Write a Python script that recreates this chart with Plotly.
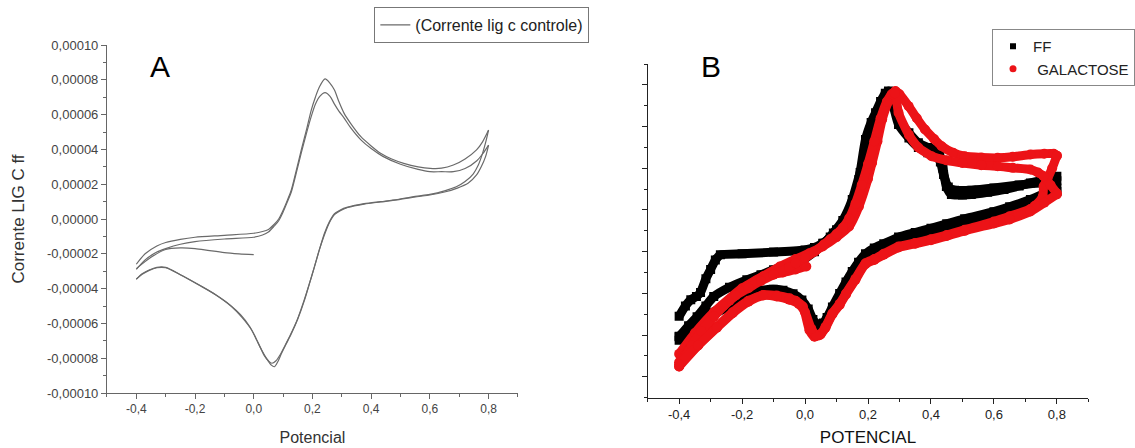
import plotly.graph_objects as go

# ---------------- Panel A : cyclic voltammogram (values in 1e-5 A) ----------------
a_start_x = [0.0, -0.05, -0.1, -0.15, -0.2, -0.25, -0.3, -0.35, -0.4]
a_start_y = [-2.05, -2.0, -1.93, -1.82, -1.7, -1.66, -1.75, -2.2, -2.85]

a_an1_x = [-0.4, -0.37, -0.33, -0.3, -0.25, -0.2, -0.1, 0.0, 0.03, 0.05, 0.07, 0.085, 0.1, 0.115,
           0.128, 0.145, 0.162, 0.18, 0.196, 0.21, 0.224, 0.243, 0.26, 0.275, 0.29, 0.308, 0.33,
           0.365, 0.4, 0.432, 0.47, 0.511, 0.56, 0.601, 0.64, 0.68, 0.72, 0.759, 0.78, 0.8]
a_an1_y = [-2.6, -2.0, -1.55, -1.35, -1.17, -1.05, -0.94, -0.82, -0.72, -0.6, -0.3, 0.0, 0.5, 1.1,
           1.67, 2.8, 3.97, 5.15, 6.26, 7.0, 7.6, 8.05, 7.8, 7.41, 6.75, 6.07, 5.5,
           4.73, 4.2, 3.78, 3.45, 3.2, 3.0, 2.91, 2.92, 3.1, 3.45, 3.97, 4.45, 5.11]

a_cat1_x = [0.8, 0.79, 0.78, 0.765, 0.748, 0.72, 0.69, 0.65, 0.6, 0.55, 0.489, 0.432, 0.376, 0.32,
            0.295, 0.275, 0.258, 0.241, 0.224, 0.207, 0.19, 0.173, 0.15, 0.128, 0.11, 0.094, 0.082,
            0.07, 0.06, 0.045, 0.027, 0.01, -0.007, -0.04, -0.075, -0.13, -0.187, -0.25, -0.3,
            -0.33, -0.356, -0.38, -0.4]
a_cat1_y = [5.11, 4.4, 3.8, 3.1, 2.6, 2.15, 1.85, 1.62, 1.42, 1.3, 1.12, 1.0, 0.88, 0.68,
            0.52, 0.3, -0.15, -0.82, -1.75, -2.74, -3.7, -4.66, -5.75, -6.6, -7.2, -7.75, -8.2,
            -8.49, -8.4, -8.05, -7.53, -6.95, -6.38, -5.65, -5.04, -4.35, -3.79, -3.2, -2.78,
            -2.78, -2.93, -3.15, -3.47]

a_an2_x = [-0.4, -0.37, -0.33, -0.3, -0.25, -0.2, -0.1, 0.0, 0.03, 0.05, 0.07, 0.085, 0.1, 0.115,
           0.128, 0.145, 0.162, 0.18, 0.196, 0.21, 0.225, 0.243, 0.26, 0.275, 0.29, 0.308, 0.33,
           0.365, 0.4, 0.44, 0.5, 0.56, 0.6, 0.64, 0.68, 0.72, 0.76, 0.78, 0.8]
a_an2_y = [-2.9, -2.35, -1.9, -1.7, -1.45, -1.3, -1.15, -1.05, -0.92, -0.75, -0.4, -0.1, 0.4, 1.0,
           1.55, 2.65, 3.8, 4.95, 5.9, 6.6, 7.05, 7.26, 7.05, 6.6, 6.2, 5.8, 5.25,
           4.55, 4.05, 3.6, 3.15, 2.85, 2.72, 2.72, 2.72, 2.9, 3.35, 3.75, 4.25]

a_cat2_x = [0.8, 0.79, 0.775, 0.759, 0.73, 0.691, 0.65, 0.6, 0.556, 0.489, 0.432, 0.376, 0.32,
            0.295, 0.275, 0.258, 0.24, 0.222, 0.205, 0.188, 0.17, 0.148, 0.125, 0.107, 0.09,
            0.076, 0.062, 0.05, 0.036, 0.02, 0.003, -0.015, -0.045, -0.08, -0.135, -0.19, -0.25,
            -0.3, -0.33, -0.356, -0.38, -0.4]
a_cat2_y = [4.25, 3.6, 3.0, 2.53, 2.05, 1.76, 1.55, 1.38, 1.28, 1.1, 0.98, 0.86, 0.66,
            0.48, 0.25, -0.2, -0.95, -1.85, -2.85, -3.8, -4.75, -5.8, -6.65, -7.25, -7.8,
            -8.15, -8.29, -8.15, -7.85, -7.3, -6.7, -6.15, -5.5, -4.95, -4.3, -3.75, -3.2,
            -2.8, -2.8, -2.95, -3.18, -3.45]

# ---------------- Panel B : FF (black) and GALACTOSE (red), same units ----------------
ff_an1_x = [-0.4, -0.38, -0.363, -0.345, -0.332, -0.315, -0.3, -0.285, -0.269, -0.2, -0.1, 0.0,
            0.03, 0.056, 0.08, 0.1, 0.129, 0.15, 0.171, 0.192, 0.21, 0.224, 0.24, 0.255, 0.265,
            0.28, 0.297, 0.33, 0.36, 0.39, 0.412, 0.428, 0.438, 0.449, 0.465, 0.5, 0.528, 0.58,
            0.632, 0.68, 0.716, 0.76, 0.8]
ff_an1_y = [-5.1, -4.6, -4.3, -4.15, -3.95, -3.3, -2.85, -2.4, -2.15, -2.1, -2.02, -1.92,
            -1.8, -1.6, -1.3, -0.95, -0.62, 0.3, 1.46, 3.38, 4.2, 4.66, 5.2, 5.6, 5.7,
            5.1, 4.34, 3.7, 3.22, 3.0, 2.9, 2.6, 2.0, 1.13, 0.74, 0.72, 0.74, 0.85,
            0.98, 1.15, 1.3, 1.45, 1.62]

ff_cat1_x = [0.8, 0.76, 0.716, 0.65, 0.6, 0.507, 0.45, 0.4, 0.35, 0.297, 0.25, 0.22, 0.192,
             0.17, 0.15, 0.13, 0.11, 0.087, 0.07, 0.058, 0.046, 0.035, 0.025, 0.01, -0.01,
             -0.038, -0.07, -0.101, -0.14, -0.175, -0.21, -0.26, -0.31, -0.36, -0.4]
ff_cat1_y = [0.89, 0.62, 0.34, 0.0, -0.22, -0.55, -0.8, -1.02, -1.22, -1.43, -1.75, -1.95, -2.23,
             -2.65, -3.1, -3.6, -4.15, -4.8, -5.3, -5.55, -5.67, -5.6, -5.4, -4.9, -4.45,
             -4.15, -3.98, -3.91, -3.98, -4.15, -4.35, -4.75, -5.2, -5.7, -6.24]

ff_an2_x = [-0.4, -0.37, -0.343, -0.315, -0.29, -0.24, -0.185, -0.14, -0.1, -0.05, -0.007, 0.03,
            0.06, 0.09, 0.12, 0.15, 0.175, 0.2, 0.22, 0.24, 0.255, 0.265, 0.28, 0.297, 0.33,
            0.36, 0.39, 0.415, 0.43, 0.44, 0.455, 0.475, 0.53, 0.6, 0.68, 0.74, 0.8]
ff_an2_y = [-6.08, -5.55, -5.12, -4.6, -4.15, -3.7, -3.35, -3.1, -2.87, -2.62, -2.39, -2.0,
            -1.6, -1.1, -0.5, 0.5, 1.8, 3.2, 4.2, 5.0, 5.5, 5.6, 5.0, 4.1, 3.45,
            3.0, 2.75, 2.65, 2.3, 1.7, 1.1, 0.95, 0.95, 1.05, 1.2, 1.3, 1.4]

ff_cat2_x = [0.8, 0.76, 0.716, 0.65, 0.6, 0.507, 0.45, 0.4, 0.35, 0.297, 0.25, 0.22, 0.192,
             0.17, 0.15, 0.13, 0.11, 0.087, 0.07, 0.058, 0.046, 0.035, 0.025, 0.01, -0.01,
             -0.038, -0.07, -0.101, -0.14, -0.175, -0.21, -0.26, -0.31, -0.36, -0.4]
ff_cat2_y = [1.05, 0.78, 0.5, 0.15, -0.08, -0.42, -0.66, -0.88, -1.08, -1.3, -1.62, -1.82, -2.1,
             -2.5, -2.95, -3.45, -4.0, -4.65, -5.15, -5.42, -5.52, -5.45, -5.25, -4.75, -4.32,
             -4.02, -3.85, -3.8, -3.86, -4.02, -4.22, -4.62, -5.05, -5.55, -6.05]

gal_start_x = [0.004, -0.03, -0.07, -0.133, -0.2, -0.29, -0.35, -0.4]
gal_start_y = [-2.71, -2.85, -3.0, -3.19, -3.75, -4.9, -5.9, -6.9]

gal_an1_x = [-0.4, -0.37, -0.33, -0.29, -0.24, -0.185, -0.13, -0.08, -0.03, 0.014, 0.056, 0.1,
             0.14, 0.171, 0.2, 0.213, 0.23, 0.245, 0.265, 0.28, 0.287, 0.3, 0.329, 0.355, 0.381,
             0.41, 0.434, 0.47, 0.507, 0.56, 0.612, 0.66, 0.716, 0.76, 0.79, 0.8]
gal_an1_y = [-7.3, -6.7, -5.9, -5.12, -4.35, -3.67, -3.15, -2.71, -2.35, -2.07, -1.75, -1.3,
             -0.79, 0.17, 1.5, 2.26, 3.3, 4.34, 5.2, 5.6, 5.7, 5.55, 4.98, 4.4, 3.86,
             3.4, 3.06, 2.75, 2.58, 2.52, 2.5, 2.55, 2.66, 2.7, 2.7, 2.6]

gal_cat1_x = [0.8, 0.785, 0.77, 0.758, 0.755, 0.73, 0.716, 0.65, 0.6, 0.507, 0.45, 0.4, 0.35,
              0.297, 0.25, 0.22, 0.192, 0.16, 0.13, 0.11, 0.087, 0.065, 0.046, 0.03, 0.014,
              -0.007, -0.03, -0.049, -0.09, -0.133, -0.18, -0.23, -0.28, -0.34, -0.4]
gal_cat1_y = [2.6, 2.0, 1.5, 1.14, 0.65, 0.2, 0.05, -0.3, -0.55, -0.95, -1.2, -1.4, -1.58,
              -1.75, -2.1, -2.35, -2.55, -3.3, -4.0, -4.5, -4.95, -5.6, -6.0, -6.08, -5.76,
              -4.63, -4.35, -4.23, -4.1, -4.07, -4.35, -4.9, -5.6, -6.5, -7.5]

gal_an2_x = [-0.4, -0.36, -0.33, -0.29, -0.26, -0.22, -0.18, -0.14, -0.1, -0.05, -0.03, 0.0,
             0.03, 0.06, 0.08, 0.1, 0.12, 0.14, 0.16, 0.18, 0.2, 0.22, 0.24, 0.26, 0.275,
             0.285, 0.297, 0.33, 0.36, 0.402, 0.45, 0.5, 0.56, 0.612, 0.66, 0.716, 0.74,
             0.758, 0.78, 0.8]
gal_an2_y = [-7.5, -6.5, -5.8, -5.1, -4.6, -4.1, -3.75, -3.4, -3.1, -2.75, -2.55, -2.3,
             -2.0, -1.65, -1.4, -1.15, -0.85, -0.4, 0.3, 1.2, 2.2, 3.3, 4.4, 5.2, 5.55,
             5.6, 4.66, 3.6, 3.0, 2.58, 2.38, 2.25, 2.15, 2.1, 2.02, 1.94, 1.8,
             1.62, 1.2, 0.8]

gal_cat2_x = [0.8, 0.76, 0.716, 0.65, 0.6, 0.507, 0.45, 0.4, 0.35, 0.297, 0.25, 0.22, 0.192,
              0.16, 0.13, 0.11, 0.087, 0.065, 0.05, 0.035, 0.02, 0.0, -0.02, -0.05, -0.09,
              -0.133, -0.18, -0.23, -0.28, -0.34, -0.4]
gal_cat2_y = [0.75, 0.35, -0.07, -0.45, -0.65, -1.0, -1.25, -1.45, -1.62, -1.8, -2.15, -2.4,
              -2.6, -3.35, -4.05, -4.55, -5.0, -5.65, -5.95, -6.0, -5.7, -4.9, -4.5, -4.3,
              -4.15, -4.1, -4.4, -4.95, -5.65, -6.5, -7.4]

SCALE = 1e-5

# tick labels
a_ytick_vals = [-0.0001, -0.00008, -0.00006, -0.00004, -0.00002, 0.0, 0.00002, 0.00004,
                0.00006, 0.00008, 0.0001]
a_ytick_text = ["-0,00010", "-0,00008", "-0,00006", "-0,00004", "-0,00002", "0,00000",
                "0,00002", "0,00004", "0,00006", "0,00008", "0,00010"]
x_tick_vals = [-0.4, -0.2, 0.0, 0.2, 0.4, 0.6, 0.8]
x_tick_text = ["-0,4", "-0,2", "0,0", "0,2", "0,4", "0,6", "0,8"]

FONT = "Liberation Sans, Arial, sans-serif"

fig = go.Figure()

# Panel A traces
a_segments = [(a_start_x, a_start_y), (a_an1_x, a_an1_y), (a_cat1_x, a_cat1_y),
              (a_an2_x, a_an2_y), (a_cat2_x, a_cat2_y)]
for i, (sx, sy) in enumerate(a_segments):
    fig.add_trace(go.Scatter(
        x=sx, y=[v * SCALE for v in sy], mode="lines",
        line=dict(color="#6a6a6a", width=1.2, shape="spline", smoothing=0.8),
        name="(Corrente lig c controle)", legendgroup="a", showlegend=(i == 0),
        legend="legend", xaxis="x", yaxis="y"))

# Panel B traces
ff_segments = [(ff_an1_x, ff_an1_y), (ff_cat1_x, ff_cat1_y), (ff_an2_x, ff_an2_y),
               (ff_cat2_x, ff_cat2_y)]
gal_segments = [(gal_start_x, gal_start_y), (gal_an1_x, gal_an1_y), (gal_cat1_x, gal_cat1_y),
                (gal_an2_x, gal_an2_y), (gal_cat2_x, gal_cat2_y)]
for sx, sy in ff_segments:
    fig.add_trace(go.Scatter(
        x=sx, y=[v * SCALE for v in sy], mode="lines+markers",
        line=dict(color="black", width=9, shape="spline", smoothing=0.6),
        marker=dict(symbol="square", size=9, color="black"),
        name="FF", legendgroup="ff", showlegend=False, xaxis="x2", yaxis="y2"))
for sx, sy in gal_segments:
    fig.add_trace(go.Scatter(
        x=sx, y=[v * SCALE for v in sy], mode="lines+markers",
        line=dict(color="#ec1317", width=9, shape="spline", smoothing=0.6),
        marker=dict(symbol="circle", size=10, color="#ec1317"),
        name="GALACTOSE", legendgroup="gal", showlegend=False, xaxis="x2", yaxis="y2"))

# legend-only entries for panel B
fig.add_trace(go.Scatter(x=[None], y=[None], mode="markers",
                         marker=dict(symbol="square", size=6, color="black"),
                         name="FF", legendgroup="ff", legend="legend2",
                         xaxis="x2", yaxis="y2"))
fig.add_trace(go.Scatter(x=[None], y=[None], mode="markers",
                         marker=dict(symbol="circle", size=7, color="#ec1317"),
                         name=" GALACTOSE", legendgroup="gal", legend="legend2",
                         xaxis="x2", yaxis="y2"))

W, H = 1135, 448
axis_common = dict(showgrid=False, zeroline=False, showline=True, mirror=False,
                   ticks="outside", automargin=False)

fig.update_layout(
    width=W, height=H,
    margin=dict(l=0, r=0, t=0, b=0),
    paper_bgcolor="white", plot_bgcolor="white",
    font=dict(family=FONT, color="#333"),
    xaxis=dict(**axis_common, domain=[108 / W, 523 / W], range=[-0.5, 0.9],
               linecolor="#666", tickcolor="#666", ticklen=5,
               tickvals=x_tick_vals, ticktext=x_tick_text,
               tickfont=dict(size=12, color="#444"),
               minor=dict(dtick=0.1, tick0=-0.5, ticks="outside", ticklen=3, tickcolor="#666"),
               title=dict(text="Potencial", font=dict(size=16, color="#333"), standoff=16),
               anchor="y"),
    yaxis=dict(**axis_common, domain=[1 - 393 / H, 1 - 45 / H], range=[-0.0001, 0.0001],
               linecolor="#666", tickcolor="#666", ticklen=5,
               tickvals=a_ytick_vals, ticktext=a_ytick_text,
               tickfont=dict(size=13, color="#444"),
               minor=dict(dtick=0.00001, tick0=0, ticks="outside", ticklen=3, tickcolor="#666"),
               title=dict(text="Corrente LIG C ff", font=dict(size=17, color="#333"), standoff=18),
               anchor="x"),
    xaxis2=dict(**axis_common, domain=[654 / W, 1099 / W], range=[-0.5, 0.9],
                linecolor="#222", tickcolor="#222", ticklen=5,
                tickvals=x_tick_vals, ticktext=x_tick_text,
                tickfont=dict(size=13, color="#222"),
                minor=dict(dtick=0.1, tick0=-0.5, ticks="outside", ticklen=3, tickcolor="#222"),
                title=dict(text="POTENCIAL", font=dict(size=17, color="#111"), standoff=9),
                anchor="y2"),
    yaxis2=dict(**axis_common, domain=[1 - 397.7 / H, 1 - 64 / H], range=[-0.00009, 0.00007],
                linecolor="#222", tickcolor="#222", ticklen=5,
                dtick=0.00002, tick0=-0.00008, showticklabels=False,
                minor=dict(dtick=0.00001, tick0=0, ticks="outside", ticklen=3, tickcolor="#222"),
                anchor="x2"),
    legend=dict(x=378 / W, y=1 - 7 / H, xanchor="left", yanchor="top",
                bgcolor="white", bordercolor="#777", borderwidth=1,
                font=dict(size=16, color="#222", family=FONT),
                itemwidth=30, tracegroupgap=0),
    legend2=dict(x=1002 / W, y=1 - 29 / H, xanchor="left", yanchor="top",
                 bgcolor="white", bordercolor="#888", borderwidth=1,
                 font=dict(size=15, color="#222", family=FONT),
                 itemwidth=30, tracegroupgap=0),
    annotations=[
        dict(text="A", x=162 / W, y=1 - 66 / H, xref="paper", yref="paper",
             xanchor="center", yanchor="middle",
             showarrow=False, font=dict(size=30, color="black", family=FONT)),
        dict(text="B", x=718 / W, y=1 - 66 / H, xref="paper", yref="paper",
             xanchor="center", yanchor="middle",
             showarrow=False, font=dict(size=30, color="black", family=FONT)),
    ],
)

fig.write_html("out.html", config={"displayModeBar": False},
               post_script="document.body.style.margin='0px';")
